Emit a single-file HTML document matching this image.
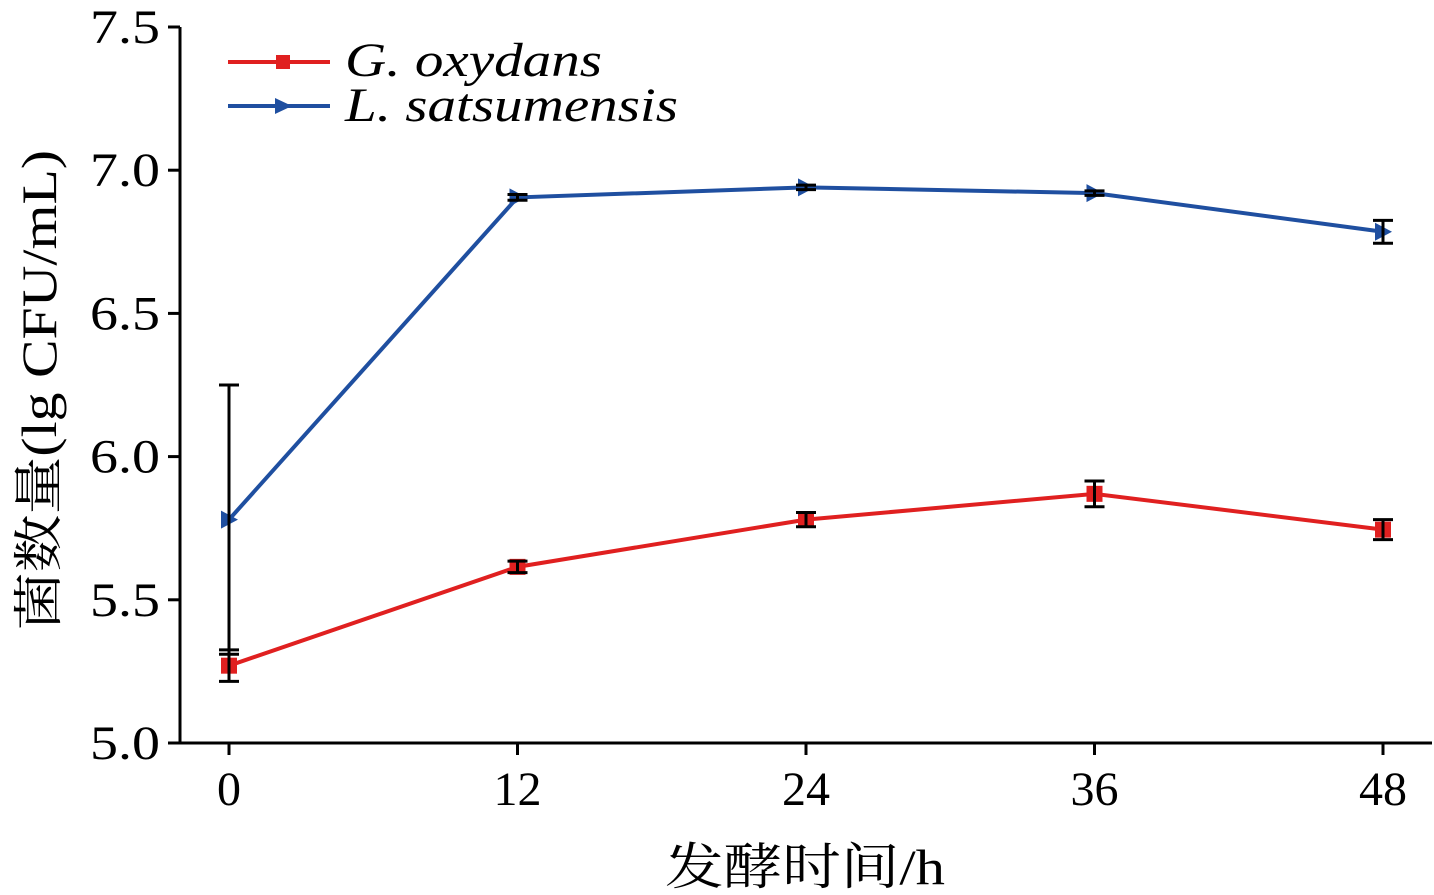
<!DOCTYPE html>
<html><head><meta charset="utf-8"><style>
html,body{margin:0;padding:0;background:#fff;}
svg{display:block;font-family:"Liberation Serif","Noto Serif CJK SC",serif;}
</style></head><body>
<svg id="chart" width="1434" height="895" viewBox="0 0 1434 895">
<g id="axes"></g>
<g id="series"></g>
<g>
 <line x1="228" y1="62" x2="330" y2="62" stroke="#e02020" stroke-width="4"/>
 <rect x="276" y="55" width="14" height="14" fill="#e02020"/>
 <text x="345" y="76" font-size="48" font-style="italic" textLength="257" lengthAdjust="spacingAndGlyphs">G. oxydans</text>
 <line x1="228" y1="106" x2="330" y2="106" stroke="#1f4fa0" stroke-width="4"/>
 <polygon points="275,98 292,106 275,114" fill="#1f4fa0"/>
 <text x="345" y="121" font-size="48" font-style="italic" textLength="333" lengthAdjust="spacingAndGlyphs">L. satsumensis</text>
</g>
<text x="665" y="884" font-size="50" textLength="280" lengthAdjust="spacingAndGlyphs">发酵时间/h</text>
<text transform="translate(56,630) rotate(-90)" font-size="50" textLength="480" lengthAdjust="spacingAndGlyphs">菌数量(lg CFU/mL)</text>
</svg>
<script>
const xCats=[0,12,24,36,48];
const yTicks=[5.0,5.5,6.0,6.5,7.0,7.5];
const redVals=[5.27,5.615,5.78,5.87,5.745];
const redErr=[0.055,0.02,0.025,0.045,0.035];
const blueVals=[5.78,6.905,6.94,6.92,6.785];
const blueErr=[0.47,0.01,0.008,0.008,0.04];
const NS="http://www.w3.org/2000/svg";
function X(v){return 229+(v-0)*(1383-229)/48;}
function Y(v){return 743-(v-5.0)*(743-27)/2.5;}
function mk(tag,at,parent){const e=document.createElementNS(NS,tag);for(const k in at)e.setAttribute(k,at[k]);parent.appendChild(e);return e;}
const ax=document.getElementById('axes');
const ya=mk('line',{x1:180,y1:27,x2:180,y2:744,stroke:'#000','stroke-width':3},ax);


const xa=mk('line',{x1:179,y1:743,x2:1432,y2:743,stroke:'#000','stroke-width':3},ax);


yTicks.forEach(t=>{
 mk('line',{x1:168,y1:Y(t),x2:180,y2:Y(t),stroke:'#000','stroke-width':3},ax);
 const tx=mk('text',{x:90,y:Y(t)+16,'font-size':48,textLength:70,lengthAdjust:'spacingAndGlyphs'},ax);
 tx.textContent=t.toFixed(1);
 
 
});
xCats.forEach(c=>{
 mk('line',{x1:X(c),y1:743,x2:X(c),y2:755,stroke:'#000','stroke-width':3},ax);
 const tx=mk('text',{x:X(c),y:805,'font-size':48,'text-anchor':'middle'},ax);
 tx.textContent=c;
 
 
});
const sg=document.getElementById('series');
function series(vals,errs,color,name,tri){
 const pl=mk('polyline',{points:vals.map((v,i)=>X(xCats[i])+','+Y(v)).join(' '),fill:'none',stroke:color,'stroke-width':4},sg);
 
 
 vals.forEach((v,i)=>{
  const x=X(xCats[i]),y=Y(v);
  if(tri){const p=mk('polygon',{points:(x-8)+','+(y-9)+' '+(x+9)+','+y+' '+(x-8)+','+(y+9),fill:color},sg);
   }
  else{const r=mk('rect',{x:x-8,y:y-8,width:16,height:16,fill:color},sg);
   }
  const t=Y(v+errs[i]),b=Y(v-errs[i]);
  const g=mk('g',{stroke:'#000','stroke-width':3},sg);
  
  
  mk('line',{x1:x,y1:t,x2:x,y2:b},g);
  mk('line',{x1:x-10,y1:t,x2:x+10,y2:t},g);
  mk('line',{x1:x-10,y1:b,x2:x+10,y2:b},g);
 });
}
series(redVals,redErr,'#e02020','g-oxydans',false);
series(blueVals,blueErr,'#1f4fa0','l-satsumensis',true);
</script>
</body></html>
